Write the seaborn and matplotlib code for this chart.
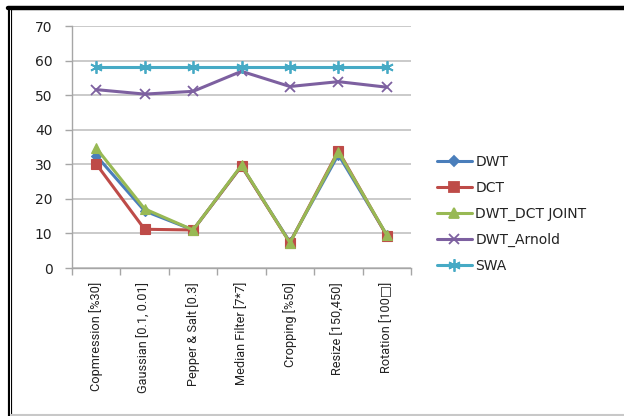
import matplotlib
matplotlib.use("Agg")
import matplotlib.pyplot as plt
from matplotlib.lines import Line2D
from matplotlib.ticker import FixedLocator
import numpy as np
import pandas as pd
import seaborn as sns

# Attack categories on the x axis
attacks = [
    "Copmression [%30]",
    "Gaussian [0.1, 0.01]",
    "Pepper & Salt [0.3]",
    "Median Filter [7*7]",
    "Cropping [%50]",
    "Resize [150,450]",
    "Rotation [100\u25a1]",
]

# Scores per method
dwt = [32.5, 16.5, 11.0, 29.5, 7.5, 32.8, 9.5]
dct = [30.1, 11.2, 11.0, 29.5, 7.3, 33.9, 9.3]
dwt_dct_joint = [34.7, 17.1, 11.0, 29.7, 7.3, 33.6, 9.5]
dwt_arnold = [51.6, 50.3, 51.1, 56.9, 52.5, 53.9, 52.3]
swa = [58.1, 58.1, 58.1, 58.1, 58.1, 58.1, 58.1]

series_names = ["DWT", "DCT", "DWT_DCT JOINT", "DWT_Arnold", "SWA"]
series_values = [dwt, dct, dwt_dct_joint, dwt_arnold, swa]
y_ticks = [0, 10, 20, 30, 40, 50, 60, 70]

colors = ["#4A7EBB", "#BE4B48", "#98B954", "#7D60A0", "#46AAC5"]
markers = ["D", "s", "^", "x", (6, 2, 0)]
msizes = [5, 7, 7, 7, 9]

rows = []
for name, vals in zip(series_names, series_values):
    for i, v in enumerate(vals):
        rows.append({"pos": i, "value": v, "method": name})
df = pd.DataFrame(rows)

sns.set_theme(style="white")
plt.rcParams["font.family"] = ["DejaVu Sans"]

fig = plt.figure(figsize=(6.24, 4.16), dpi=100)
ax = fig.add_axes([72 / 624, 1 - 268 / 416, 339 / 624, 242 / 416])

for name, col, mk, ms in zip(series_names, colors, markers, msizes):
    sub = df[df["method"] == name]
    sns.lineplot(
        data=sub, x="pos", y="value", ax=ax, color=col, marker=mk,
        markersize=ms, linewidth=2.2, markeredgecolor=col,
        markeredgewidth=1.3 if mk in ("x",) or isinstance(mk, tuple) else 0.8,
        label=name, legend=False, zorder=3,
    )

ax.set_xlim(-0.5, len(attacks) - 0.5)
ax.set_ylim(0, 70)
ax.set_xlabel("")
ax.set_ylabel("")

ax.set_yticks(y_ticks)
ax.yaxis.grid(True, color="#C6C6C6", linewidth=1.3)
ax.xaxis.grid(False)
ax.set_axisbelow(True)
ax.tick_params(axis="y", which="major", length=5, width=1, color="#A6A6A6",
               direction="out", left=True, pad=9, labelsize=10, labelcolor="#222222")

ax.set_xticks(np.arange(len(attacks)))
ax.set_xticklabels(attacks, rotation=90, ha="center", va="top",
                   family=["Roboto", "DejaVu Sans"], fontsize=9.2,
                   color="#222222")
ax.xaxis.set_minor_locator(FixedLocator(np.arange(-0.5, len(attacks), 1.0)))
ax.tick_params(axis="x", which="major", length=0, pad=10)
ax.tick_params(axis="x", which="minor", length=5, width=1, color="#A6A6A6",
               direction="out", bottom=True)

for side in ["top", "right"]:
    ax.spines[side].set_visible(False)
for side in ["left", "bottom"]:
    ax.spines[side].set_color("#A6A6A6")
    ax.spines[side].set_linewidth(1.0)

handles = [
    Line2D([0], [0], color=c, marker=m, markersize=s, linewidth=2.2,
           markeredgecolor=c, markeredgewidth=1.3)
    for c, m, s in zip(colors, markers, msizes)
]
fig.legend(handles, series_names, loc="center left",
           bbox_to_anchor=(437 / 624, 1 - 214 / 416), frameon=False,
           borderpad=0, borderaxespad=0, handlelength=2.5, handletextpad=0.25,
           labelspacing=0.85, fontsize=10, labelcolor="#222222")

# Outer chart frame
fig.add_artist(Line2D([8 / 624, 1.0], [1 - 8 / 416, 1 - 8 / 416],
                      transform=fig.transFigure, color="black", linewidth=3.2))
fig.add_artist(Line2D([9.5 / 624, 9.5 / 624], [0, 1 - 8 / 416],
                      transform=fig.transFigure, color="black", linewidth=3.0))
fig.add_artist(Line2D([10 / 624, 10 / 624], [0, 1 - 10 / 416],
                      transform=fig.transFigure, color="white", linewidth=0.7))
fig.add_artist(Line2D([11 / 624, 1.0], [1.5 / 416, 1.5 / 416],
                      transform=fig.transFigure, color="#C8C8C8", linewidth=1.5))

fig.savefig("out.png", dpi=100)
